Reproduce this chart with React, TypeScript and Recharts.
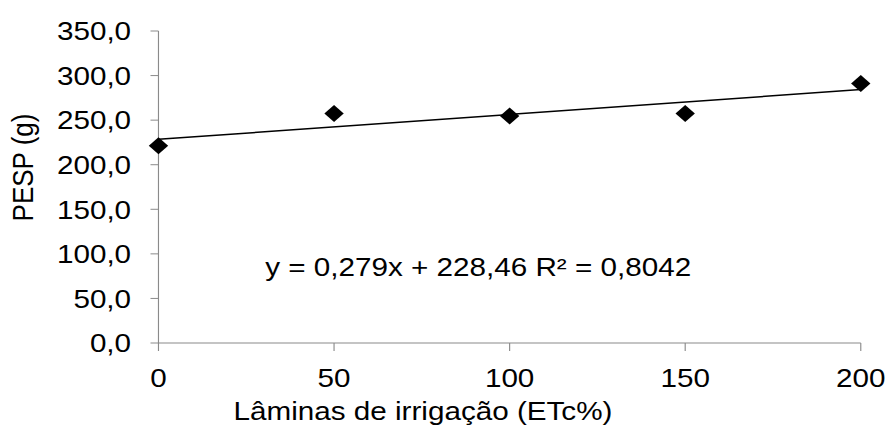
import React from 'react';
import {
  ComposedChart,
  Scatter,
  Line,
  XAxis,
  YAxis,
  ReferenceDot,
} from 'recharts';

// Data
const laminas = [0, 50, 100, 150, 200];
const pesp = [221.2, 257.5, 254.7, 257.5, 291.1];
const trendX = [0, 200];
const trendY = [228.46, 284.26];
const xTicks = [0, 50, 100, 150, 200];
const yTicks = [0, 50, 100, 150, 200, 250, 300, 350];
const equationText = 'y = 0,279x + 228,46 R² = 0,8042';
const equationAnchor = { x: 30.4, y: 75.2 };
const xLabel = 'Lâminas de irrigação (ETc%)';
const yLabel = 'PESP (g)';

const points = laminas.map((x, i) => ({ x, y: pesp[i] }));
const trend = trendX.map((x, i) => ({ x, y: trendY[i] }));

const FONT = 'Liberation Sans, Arial, sans-serif';
const FS = 26;
const AXIS_COLOR = '#8a8a8a';

const fmt = (v: number) => v.toFixed(1).replace('.', ',');

const Diamond = (props: any) => {
  const { cx, cy } = props;
  if (cx == null || cy == null) return null;
  const r = 8.5;
  return (
    <polygon
      points={`${cx},${cy - r} ${cx + r},${cy} ${cx},${cy + r} ${cx - r},${cy}`}
      fill="#000"
    />
  );
};

const YLabel = (props: any) => {
  const vb = props.viewBox || {};
  const cx = 20;
  const cy = vb.y + vb.height / 2 - 19.5;
  return (
    <text
      x={cx}
      y={cy}
      transform={`rotate(-90, ${cx}, ${cy})`}
      textAnchor="middle"
      dominantBaseline="central"
      fontFamily={FONT}
      fontSize={FS}
      fill="#000"
    >
      {yLabel}
    </text>
  );
};

const XLabel = (props: any) => {
  const vb = props.viewBox || {};
  const cx = vb.x + vb.width / 2 - 76;
  const y = vb.y + vb.height - 5.5;
  return (
    <text x={cx} y={y} textAnchor="middle" fontFamily={FONT} fontSize={FS} fill="#000">
      {xLabel}
    </text>
  );
};

const EquationLabel = (props: any) => {
  const vb = props.viewBox || {};
  return (
    <text x={vb.x} y={vb.y} textAnchor="start" fontFamily={FONT} fontSize={FS} fill="#000">
      {equationText}
    </text>
  );
};

const W = 778;
const H = 426;
const SCALE = 887 / W;

export default function App() {
  return (
    <div
      style={{
        position: 'absolute',
        left: 0,
        top: 0,
        width: 887,
        height: 426,
        overflow: 'hidden',
        background: '#fff',
      }}
    >
      <div style={{ width: W, height: H, transform: `scaleX(${SCALE})`, transformOrigin: '0 0' }}>
        <ComposedChart
          width={W}
          height={H}
          margin={{ top: 31, right: 23, bottom: 0, left: 0 }}
        >
          <XAxis
            type="number"
            dataKey="x"
            domain={[0, 200]}
            ticks={xTicks}
            interval={0}
            height={83}
            stroke={AXIS_COLOR}
            tickLine={{ stroke: AXIS_COLOR }}
            tickSize={8}
            tickMargin={18}
            tick={{ fill: '#000', fontSize: FS, fontFamily: FONT }}
            label={<XLabel />}
          />
          <YAxis
            type="number"
            dataKey="y"
            domain={[0, 350]}
            ticks={yTicks}
            interval={0}
            width={139}
            stroke={AXIS_COLOR}
            tickLine={{ stroke: AXIS_COLOR }}
            tickSize={7}
            tickMargin={17}
            tickFormatter={fmt}
            tick={{ fill: '#000', fontSize: FS, fontFamily: FONT }}
            label={<YLabel />}
          />
          <Line
            data={trend}
            dataKey="y"
            type="linear"
            stroke="#000"
            strokeWidth={1.5}
            dot={false}
            activeDot={false}
            isAnimationActive={false}
            legendType="none"
          />
          <Scatter
            data={points}
            dataKey="y"
            fill="#000"
            shape={<Diamond />}
            isAnimationActive={false}
          />
          <ReferenceDot
            x={equationAnchor.x}
            y={equationAnchor.y}
            r={0}
            fill="none"
            stroke="none"
            label={<EquationLabel />}
          />
        </ComposedChart>
      </div>
    </div>
  );
}
